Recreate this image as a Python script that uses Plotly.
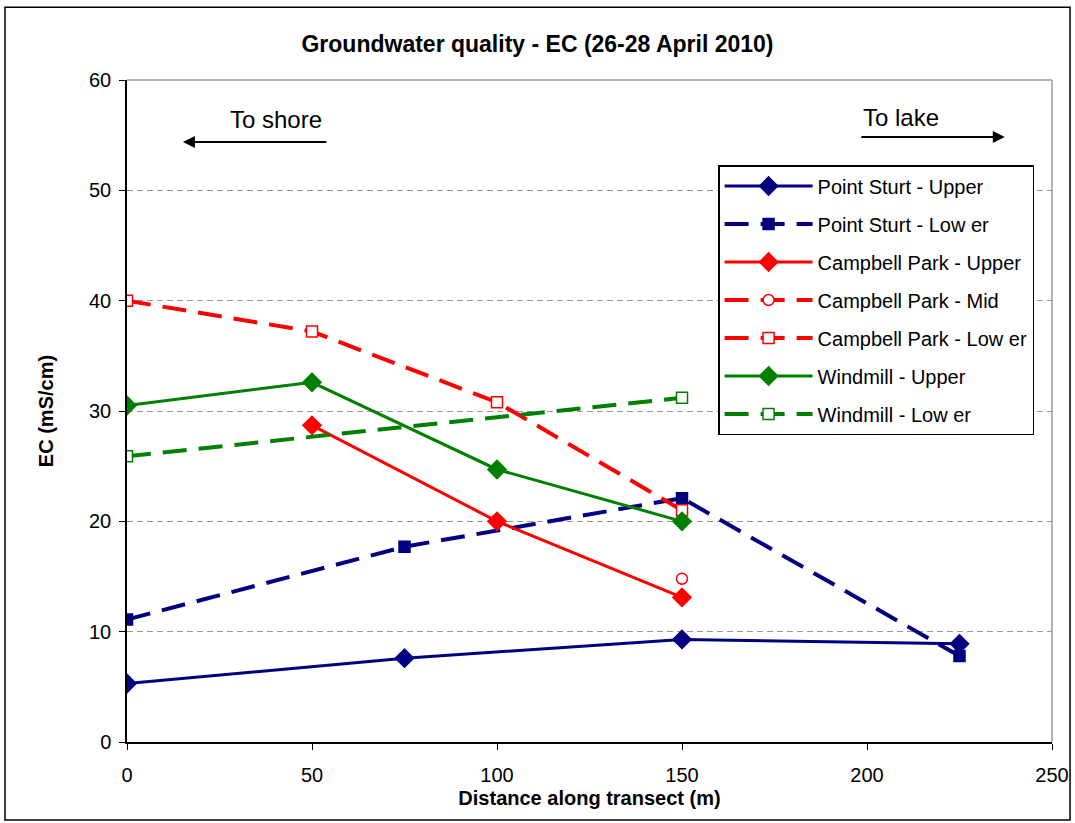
import plotly.graph_objects as go

# Data
ps_upper_x = [0, 75, 150, 225]
ps_upper_y = [5.3, 7.6, 9.3, 8.9]
ps_lower_x = [0, 75, 150, 225]
ps_lower_y = [11.1, 17.7, 22.1, 7.8]
cp_upper_x = [50, 100, 150]
cp_upper_y = [28.7, 20.0, 13.1]
cp_mid_x = [150]
cp_mid_y = [14.8]
cp_lower_x = [0, 50, 100, 150]
cp_lower_y = [40.0, 37.2, 30.8, 21.0]
wm_upper_x = [0, 50, 100, 150]
wm_upper_y = [30.5, 32.6, 24.7, 20.0]
wm_lower_x = [0, 150]
wm_lower_y = [25.9, 31.2]

NAVY = "#000080"
RED = "#FF0000"
GREEN = "#008000"
DASH = "24px,12px"

# name, x, y, color, dash, symbol, size, filled
series = [
    ("Point Sturt - Upper", ps_upper_x, ps_upper_y, NAVY, "solid", "diamond", 14, True),
    ("Point Sturt - Low er", ps_lower_x, ps_lower_y, NAVY, DASH, "square", 11, True),
    ("Campbell Park - Upper", cp_upper_x, cp_upper_y, RED, "solid", "diamond", 14, True),
    ("Campbell Park - Mid", cp_mid_x, cp_mid_y, RED, DASH, "circle", 11, False),
    ("Campbell Park - Low er", cp_lower_x, cp_lower_y, RED, DASH, "square", 11, False),
    ("Windmill - Upper", wm_upper_x, wm_upper_y, GREEN, "solid", "diamond", 14, True),
    ("Windmill - Low er", wm_lower_x, wm_lower_y, GREEN, DASH, "square", 11, False),
]

fig = go.Figure()
for i, (name, xs, ys, col, dash, sym, size, filled) in enumerate(series):
    fig.add_trace(go.Scatter(
        x=xs, y=ys, name=name, mode="lines+markers",
        legendgroup=f"g{i}",
        line=dict(color=col, width=4 if dash != "solid" else 3, dash=dash),
        marker=dict(symbol=sym, size=size, color=col if filled else "white",
                    line=dict(color=col, width=1.5)),
    ))

fig.update_layout(
    width=1075, height=823,
    paper_bgcolor="white", plot_bgcolor="white",
    margin=dict(l=127, r=23, t=80, b=81),
    font=dict(family="Liberation Sans, Arial, sans-serif", color="black"),
    title=dict(text="<b>Groundwater quality - EC (26-28 April 2010)</b>",
               x=0.5, xanchor="center", y=0.946, yanchor="middle",
               font=dict(size=23)),
    showlegend=True,
    legend=dict(x=0.639, y=0.8716, xanchor="left", yanchor="top",
                bgcolor="white", bordercolor="black", borderwidth=1.5,
                font=dict(size=20), tracegroupgap=9, itemwidth=88),
    xaxis=dict(range=[0, 250], dtick=50, tick0=0, showgrid=False,
               showline=True, linecolor="black", linewidth=1.5,
               ticks="outside", ticklen=6, tickcolor="black", automargin=False,
               tickfont=dict(size=20), zeroline=False, ticklabelstandoff=8,
               title=dict(text="<b>Distance along transect (m)</b>", font=dict(size=20), standoff=6)),
    yaxis=dict(range=[0, 60], dtick=10, tick0=0, showgrid=True,
               gridcolor="#999999", griddash="6px,4px", gridwidth=1,
               showline=True, linecolor="black", linewidth=1.5,
               ticks="outside", ticklen=6, tickcolor="black", automargin=False,
               tickfont=dict(size=20), zeroline=False, ticklabelstandoff=4,
               title=dict(text="<b>EC (mS/cm)</b>", font=dict(size=20), standoff=30)),
)

# plot area gray frame top/right
fig.add_shape(type="line", xref="paper", yref="paper", x0=0, x1=1, y0=1, y1=1,
              line=dict(color="#999999", width=1.5))
fig.add_shape(type="line", xref="paper", yref="paper", x0=1, x1=1, y0=0, y1=1,
              line=dict(color="#999999", width=1.5))
# outer chart border
fig.add_shape(type="rect", xref="paper", yref="paper",
              x0=-0.1319, x1=1.0195, y0=-0.118, y1=1.110,
              line=dict(color="black", width=1.5))

# direction annotations
fig.add_annotation(xref="paper", yref="paper", x=0.1611, y=0.9396, text="To shore",
                   xanchor="center", yanchor="middle",
                   showarrow=False, font=dict(size=24))
fig.add_annotation(xref="paper", yref="paper", x=0.0605, y=0.9063,
                   ax=145, ay=0,
                   showarrow=True, arrowhead=2, arrowsize=1.2, arrowwidth=2, arrowcolor="black", text="")
fig.add_annotation(xref="paper", yref="paper", x=0.837, y=0.944, text="To lake",
                   xanchor="center", yanchor="middle",
                   showarrow=False, font=dict(size=24))
fig.add_annotation(xref="paper", yref="paper", x=0.949, y=0.914,
                   ax=-145, ay=0,
                   showarrow=True, arrowhead=2, arrowsize=1.2, arrowwidth=2, arrowcolor="black", text="")

fig.write_html("out.html", config={"displayModeBar": False},
               post_script="document.body.style.margin='0px';")
